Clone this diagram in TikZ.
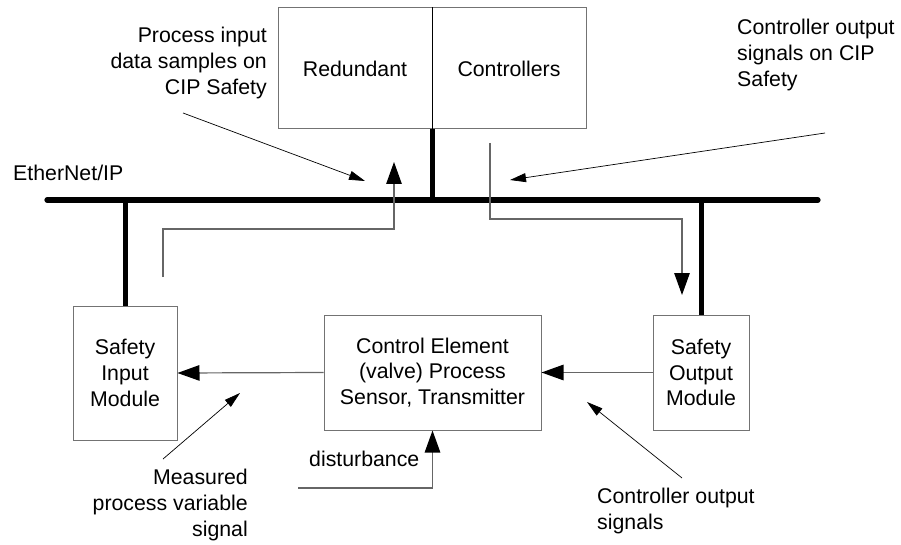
\documentclass[tikz,border=0pt]{standalone}
\usepackage{fontspec}
\setmainfont{Liberation Sans}
\usetikzlibrary{arrows.meta}
\begin{document}
\begin{tikzpicture}[x=1pt,y=-1pt,
  txt/.style={font=\fontsize{21.3}{25.8}\selectfont, inner sep=0pt},
  box/.style={draw=black!55, line width=1pt, txt, align=center, anchor=center},
  bus/.style={line width=5.2pt, line cap=round},
  drop/.style={line width=5pt},
  bighead/.tip={Triangle[length=22pt 0 0, width=15.5pt 0 0, color=black, fill=black]},
  signal/.style={draw=black!60, line width=1.2pt, -bighead},
  callout/.style={line width=0.7pt, -{Triangle[length=16pt 0 0,width=9pt 0 0]}},
  lbl/.style={txt, align=left}
]
\useasboundingbox (0,0) rectangle (901,545);

% redundant controller pair
\node[box, minimum width=154pt, minimum height=121pt] (red) at (355,68.5) {Redundant};
\node[box, minimum width=154pt, minimum height=121pt] (ctl) at (509,68.5) {Controllers};
\draw[line width=0.8pt] (red.north east) -- (red.south east);

% field devices
\node[box, minimum width=104pt, minimum height=134pt] (sim) at (125,373) {Safety\\Input\\Module};
\node[box, minimum width=217pt, minimum height=115pt] (ce) at (432.5,372.5) {Control Element\\(valve) Process\\Sensor, Transmitter};
\node[box, minimum width=96pt, minimum height=115pt] (som) at (701,372.5) {Safety\\Output\\Module};

% EtherNet/IP bus and drops
\coordinate (busW) at (47,200);
\coordinate (busE) at (818,200);
\draw[bus] (busW) -- (busE);
\node[txt, anchor=west] (eip) at (13,173) {EtherNet/IP};
\draw[drop] (red.south east) -- (red.south east |- busW);
\draw[drop] (sim.north) -- (sim.north |- busW);
\draw[drop] (som.north) -- (som.north |- busW);

% safety data paths
\coordinate (inS) at (163,277);
\coordinate (inT) at (394,162);
\draw[signal] (inS) |- (inT |- 0,229) -- (inT);
\coordinate (outS) at (490,143);
\coordinate (outT) at (682,295);
\draw[signal] (outS) |- (outT |- 0,219) -- (outT);

% process loop
\draw[signal] (ce.west) -- (sim.east);
\draw[signal] (som.west) -- (ce.east);
\coordinate (dist) at (298,488);
\draw[signal] (dist) -| (ce.south);
\node[txt, anchor=base west] (distl) at (309,466) {disturbance};

% callouts
\node[txt, align=right, anchor=north east] (pin) at (267,27) {Process input\\data samples on\\CIP Safety};
\coordinate (pinA) at (183,113);
\coordinate (pinB) at (365,181);
\draw[callout] (pinA) -- (pinB);

\node[lbl, anchor=north west] (cout) at (737,19) {Controller output\\signals on CIP\\Safety};
\coordinate (coutA) at (825,133);
\coordinate (coutB) at (510,180);
\draw[callout] (coutA) -- (coutB);

\node[txt, align=right, anchor=north east] (mpv) at (248,469) {Measured\\process variable\\signal};
\coordinate (mpvA) at (163,459);
\coordinate (mpvB) at (240,393);
\draw[callout] (mpvA) -- (mpvB);

\node[lbl, anchor=north west] (cos) at (597,488) {Controller output\\signals};
\coordinate (cosA) at (682,478);
\coordinate (cosB) at (587,402);
\draw[callout] (cosA) -- (cosB);
\end{tikzpicture}
\end{document}
